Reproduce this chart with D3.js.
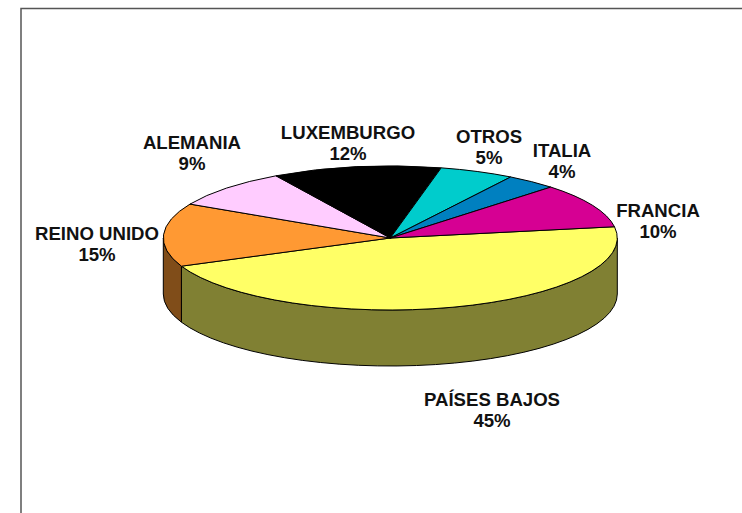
<!DOCTYPE html>
<html><head><meta charset="utf-8">
<script src="https://cdn.jsdelivr.net/npm/d3@7/dist/d3.min.js"></script>
<style>html,body{margin:0;background:#fff}svg{display:block}
text{font-family:"Liberation Sans",Arial,sans-serif;font-weight:bold;font-size:18.6px;fill:#111;text-anchor:middle}</style>
</head><body><svg id="c" width="742" height="513"></svg>
<script>
const categories = ["PAÍSES BAJOS","REINO UNIDO","ALEMANIA","LUXEMBURGO","OTROS","ITALIA","FRANCIA"];
const shareLabels = ["45%","15%","9%","12%","5%","4%","10%"];
const shares = [46.1,14.2,8.8,12,5.3,3.6,10];
const topColors = ["#FFFF66","#FF9933","#FFCCFF","#000000","#00CCCC","#0080C0","#D60093"];
const sideColors = ["#808033","#804D19","#806680","#000000","#006666","#004060","#6B004A"];

const W=742,H=513,cx=390.3,cy=238,rx=227,ry=72,depth=56;
const labelCentres=[[492,399],[97,233],[192,142],[348,132],[489,136],[562,150],[658,210]];
const rad=d=>d*Math.PI/180;
const svg=d3.select("#c");
svg.append("rect").attr("width",W).attr("height",H).attr("fill","#fff");
svg.append("path").attr("d",`M21,${H}V8.5H${W}`).attr("fill","none").attr("stroke","#555").attr("stroke-width",1.5);

const pie=d3.pie().sort(null).value(d=>d).startAngle(rad(81)).endAngle(rad(441));
const arcs=pie(shares);
const px=a=>cx+rx*Math.sin(a), py=a=>cy-ry*Math.cos(a);

// side wall: visible only on the front half of the ellipse
const front=[rad(90),rad(270)];
const wall=svg.append("g");
arcs.forEach((d,i)=>{
  const a0=Math.max(d.startAngle,front[0]),a1=Math.min(d.endAngle,front[1]);
  if(a1<=a0)return;
  wall.append("path")
    .attr("d",`M${px(a0)},${py(a0)}A${rx},${ry} 0 0 1 ${px(a1)},${py(a1)}L${px(a1)},${py(a1)+depth}A${rx},${ry} 0 0 0 ${px(a0)},${py(a0)+depth}Z`)
    .attr("fill",sideColors[i]).attr("stroke","#000").attr("stroke-width",1).attr("stroke-linejoin","round");
});

// top face: a circular d3.arc flattened into the ellipse
const arc=d3.arc().innerRadius(0).outerRadius(rx);
svg.append("g").attr("transform",`translate(${cx},${cy}) scale(1,${ry/rx})`)
  .selectAll("path").data(arcs).join("path")
  .attr("d",arc).attr("fill",(d,i)=>topColors[i])
  .attr("stroke","#000").attr("stroke-width",1).attr("vector-effect","non-scaling-stroke");

const lab=svg.append("g");
categories.forEach((c,i)=>{
  const [x,y]=labelCentres[i];
  const t=lab.append("text").attr("x",x).attr("y",y);
  t.append("tspan").attr("x",x).attr("dy",6.5).text(c);
  t.append("tspan").attr("x",x).attr("dy",21.5).text(shareLabels[i]);
});
</script></body></html>
